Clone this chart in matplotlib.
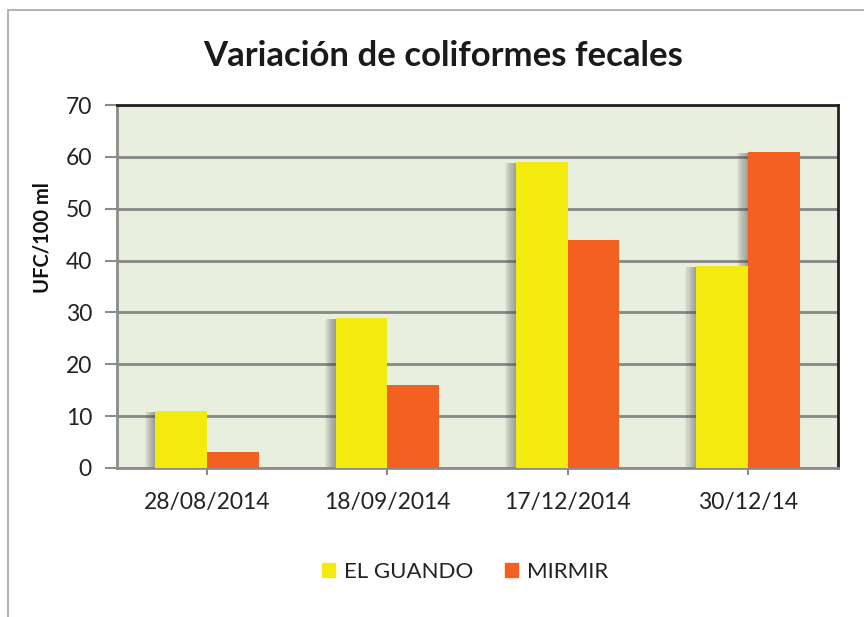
import matplotlib
matplotlib.use("Agg")
import matplotlib.pyplot as plt
from matplotlib.patches import Rectangle, Patch
import numpy as np

categories = ["28/08/2014", "18/09/2014", "17/12/2014", "30/12/14"]
el_guando = [11, 29, 59, 39]
mirmir = [3, 16, 44, 61]
series_names = ["EL GUANDO", "MIRMIR"]
yticks = [0, 10, 20, 30, 40, 50, 60, 70]

c_yellow = "#F3EA10"
c_orange = "#F26122"
bg = "#E9EFDF"
grid_c = "#878787"

plt.rcParams['font.family'] = ['Lato', 'DejaVu Sans']

fig = plt.figure(figsize=(8.64, 6.17), dpi=100)
# outer chart frame
fig.patches.append(Rectangle((8/864, -0.1), 1.2, 1 - 10/617 + 0.1, transform=fig.transFigure,
                             fill=False, edgecolor="#A6A6A6", linewidth=1.2))

ax = fig.add_axes([117/864, 1 - 468/617, (838 - 117)/864, (468 - 105)/617])
ax.set_facecolor(bg)

x = np.arange(len(categories))
w = 0.287

# soft shadows to the left of bars
for vals, off in ((el_guando, -w/2), (mirmir, w/2)):
    for k in range(10):
        ax.bar(x + off - 0.006 * (k + 1), np.array(vals) - 0.25, width=w, color="#4a4a4a",
               alpha=0.06, linewidth=0, zorder=2)

ax.bar(x - w/2, el_guando, width=w, color=c_yellow, zorder=3, linewidth=0, label=series_names[0])
ax.bar(x + w/2, mirmir, width=w, color=c_orange, zorder=3, linewidth=0, label=series_names[1])

ax.set_xlim(-0.5, len(categories) - 0.5)
ax.set_ylim(0, 70)
ax.set_yticks(yticks)
ax.yaxis.grid(True, color=grid_c, linewidth=2, zorder=1)
ax.set_axisbelow(True)
ax.set_xticks(x)
ax.set_xticklabels(categories)

for s in ("top", "right"):
    ax.spines[s].set_color("#222222")
    ax.spines[s].set_linewidth(2)
ax.spines["left"].set_color("#8C8C8C")
ax.spines["left"].set_linewidth(2)
ax.spines["bottom"].set_color("#8C8C8C")
ax.spines["bottom"].set_linewidth(2)

ax.tick_params(axis="y", length=9, width=1.5, color="#8C8C8C", labelsize=16.5, pad=9, labelcolor="#222222")
ax.tick_params(axis="x", length=5, width=1.5, color="#8C8C8C", labelsize=16.5, pad=12, labelcolor="#222222")

ax.set_ylabel("UFC/100 ml", fontsize=14.5, fontweight="bold", color="#111111",
              va="center", ha="center")
ax.yaxis.set_label_coords(-0.104, 0.636)

fig.text(443/864, 1 - 56/617, "Variación de coliformes fecales", ha="center", va="center",
         fontsize=25, fontweight="bold", color="#1a1a1a")

handles = [Patch(color=c_yellow), Patch(color=c_orange)]
fig.legend(handles, series_names, loc="center", bbox_to_anchor=(465/864, 1 - 572/617),
           ncol=2, frameon=False, fontsize=16, handlelength=0.6, handleheight=0.6,
           handletextpad=0.4, columnspacing=1.4, labelcolor="#222222")

fig.savefig("out.png", dpi=100)
